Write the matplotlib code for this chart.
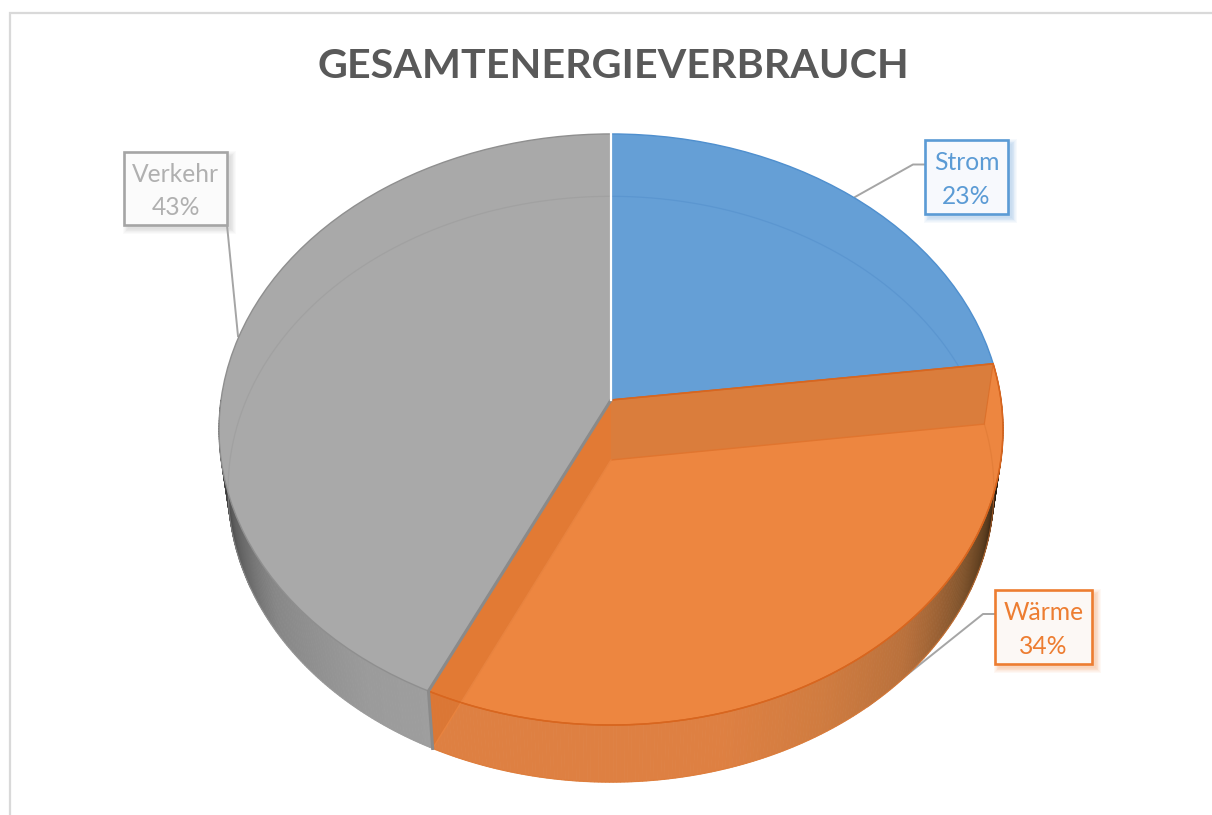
import numpy as np
import matplotlib
matplotlib.use('Agg')
import matplotlib.pyplot as plt
from matplotlib.collections import PolyCollection
from matplotlib.patches import Polygon, Rectangle
from matplotlib.transforms import Transform

names = ['Strom', 'Wärme', 'Verkehr']
values = [23, 34, 43]
colors = ['#659FD6', '#ED8640', '#A9A9A9']
edge_colors = ['#4F8FCE', '#D8661F', '#8F8F8F']
box_edges = ['#5B9BD5', '#ED7D31', '#A5A5A5']
box_fills = ['#F7F9FD', '#FCF8F5', '#FBFBFB']
text_colors = ['#5B9BD5', '#ED7D31', '#B0B0B0']
title = 'GESAMTENERGIEVERBRAUCH'

# boxes in pixels: x0, y0, x1, y1
boxes = [(925, 140, 1008, 214), (995, 590, 1092, 664), (124, 152, 227, 225)]
leaders = [[(925, 164.5), (913, 164.5), (855, 197)],
           [(995, 614), (983, 614), (868, 706)],
           [(227, 225), (238, 336)]]


class DiscView(Transform):
    # unit disc seen in perspective, gives pixel coordinates
    input_dims = 2
    output_dims = 2

    def __init__(self, cx, cy, rx, ry, persp):
        super().__init__()
        self.cx, self.cy, self.rx, self.ry, self.persp = cx, cy, rx, ry, persp

    def transform_non_affine(self, xy):
        xy = np.asarray(xy, dtype=float)
        d = 1 + self.persp * xy[:, 1]
        return np.column_stack((self.cx + self.rx * xy[:, 0] / d,
                                self.cy - self.ry * xy[:, 1] / d))


def unit(deg):
    deg = np.atleast_1d(deg)
    return np.column_stack((np.cos(np.radians(deg)), np.sin(np.radians(deg))))


top = DiscView(611, 400, 390, 292.6, 0.0998)
bottom = DiscView(611, 460, 381, 290, 0.0998)

fig = plt.figure(figsize=(12.12, 8.15), dpi=100, facecolor='white')
ax = fig.add_axes([0, 0, 1, 1])

# slice borders, clockwise from 12 o'clock
edges = 90 - 3.6 * np.cumsum(values)
a_strom, a_waerme = edges[0], edges[1]

# chart frame
ax.plot([10, 10, 1212], [815, 13, 13], color='#D9D9D9', lw=1.6, zorder=1, solid_joinstyle='miter')

for pts in leaders:
    pts = np.array(pts)
    ax.plot(pts[:, 0], pts[:, 1], color='#A5A5A5', lw=1.4, zorder=1.5)


def wall(a0, a1, ang_pts, shades):
    ang = np.linspace(a0, a1, int(abs(a1 - a0) * 2) + 2)
    t, b = top.transform_non_affine(unit(ang)), bottom.transform_non_affine(unit(ang))
    quads = [[t[i], t[i + 1], b[i + 1], b[i]] for i in range(len(ang) - 1)]
    mid = (ang[:-1] + ang[1:]) / 2
    shades = np.array(shades, dtype=float)
    cols = np.column_stack([np.interp(mid, ang_pts, shades[:, k]) for k in range(3)]) / 255
    ax.add_collection(PolyCollection(quads, facecolors=cols, edgecolors=cols, linewidths=0.6, zorder=2))


# side walls
wall(a_waerme, -180, [-180, -172, -160, -145, -125, -115],
     [(35, 35, 35), (60, 60, 60), (95, 95, 95), (135, 135, 135), (155, 155, 155), (158, 158, 158)])
wall(a_waerme, a_strom, [-115, -75, -60, -45, -30, -20, -10, 0, 8],
     [(222, 128, 66), (222, 128, 66), (208, 124, 64), (185, 113, 60), (130, 85, 45), (90, 60, 30),
      (40, 28, 15), (30, 20, 10), (30, 20, 10)])

# top face
wedges, _ = ax.pie(values, colors=colors, startangle=90, counterclock=False, radius=1,
                   wedgeprops=dict(transform=top + ax.transData, linewidth=0, zorder=3))
for w, ec in zip(wedges, edge_colors):
    w.set_edgecolor(ec)
    w.set_linewidth(1.0)
    w.set_zorder(3)
wedges[1].set_zorder(3.1)

# bottom outline seen through the top face, blue part goes under the orange slice
for a0, a1, ec, z in [(90, a_strom, '#5590CC', 3.05), (a_strom, a_waerme, '#DE7A35', 4),
                      (a_waerme, -270, '#9C9C9C', 4)]:
    ang = np.linspace(a0, a1, 200)
    ax.plot(*bottom.transform_non_affine(unit(ang)).T, color=ec, lw=0.9, alpha=0.6, zorder=z)

# inner faces of the orange slice
corner_s = np.vstack((top.transform_non_affine(np.zeros((1, 2))), top.transform_non_affine(unit(a_strom)),
                      bottom.transform_non_affine(unit(a_strom)), bottom.transform_non_affine(np.zeros((1, 2)))))
corner_w = np.vstack((top.transform_non_affine(np.zeros((1, 2))), top.transform_non_affine(unit(a_waerme)),
                      bottom.transform_non_affine(unit(a_waerme)), bottom.transform_non_affine(np.zeros((1, 2)))))
ax.add_patch(Polygon(corner_s, closed=True, facecolor='#C8753A', alpha=0.5, edgecolor='none', zorder=4.1))
ax.add_patch(Polygon(corner_w, closed=True, facecolor='#D9702A', alpha=0.5, edgecolor='none', zorder=4.1))
ax.plot(corner_s[[1, 2], 0], corner_s[[1, 2], 1], color='#D8661F', lw=0.8, alpha=0.6, zorder=4.2)
ax.plot(corner_s[[2, 3], 0], corner_s[[2, 3], 1], color='#E0752F', lw=1.0, zorder=4.2)
ax.plot(corner_s[[0, 1], 0], corner_s[[0, 1], 1], color='#D8661F', lw=1.2, zorder=4.2)
ax.plot(corner_w[[2, 3], 0], corner_w[[2, 3], 1], color='#E8833F', lw=1.0, zorder=4.2)

# top arc of the orange slice again, above the overlays
ang = np.linspace(a_strom, a_waerme, 200)
ax.plot(*top.transform_non_affine(unit(ang)).T, color='#D8661F', lw=1.1, zorder=4.3)

# grey cut face
ax.plot(corner_w[[0, 1, 2], 0], corner_w[[0, 1, 2], 1], color='#8A8A8A', lw=2.2, zorder=4.4,
        solid_joinstyle='miter')
# white gap on top of the first border
gap = top.transform_non_affine(np.vstack(([0, 0], unit(90))))
ax.plot(gap[:, 0] - 1.0, gap[:, 1], color='#8F8F8F', lw=0.8, zorder=4.4)
ax.plot(gap[:, 0], gap[:, 1], color='white', lw=1.6, zorder=4.5)

# callouts
for box, ec, fc, tc, name, val in zip(boxes, box_edges, box_fills, text_colors, names, values):
    x0, y0, x1, y1 = box
    for k in range(7):
        ax.add_patch(Rectangle((x0 + 4 - k * 0.8, y0 + 4 - k * 0.8), x1 - x0 + k * 1.6, y1 - y0 + k * 1.6,
                               facecolor=ec, alpha=0.05, edgecolor='none', zorder=5))
    ax.add_patch(Rectangle((x0, y0), x1 - x0, y1 - y0, facecolor=fc, edgecolor=ec, lw=1.9, zorder=5.5))
    ax.text((x0 + x1) / 2, (y0 + y1) / 2 + 2.5, f'{name}\n{val}%', color=tc, ha='center', va='center',
            fontsize=17.7, family='Lato', linespacing=1.55, zorder=6)

ax.text(613.5, 66, title, color='#595959', ha='center', va='center', fontsize=29.7, fontweight='bold',
        family='Lato', zorder=6)

ax.set_aspect('auto')
ax.set_xlim(0, 1212)
ax.set_ylim(815, 0)
ax.axis('off')

fig.savefig('out.png', dpi=100, facecolor='white')
